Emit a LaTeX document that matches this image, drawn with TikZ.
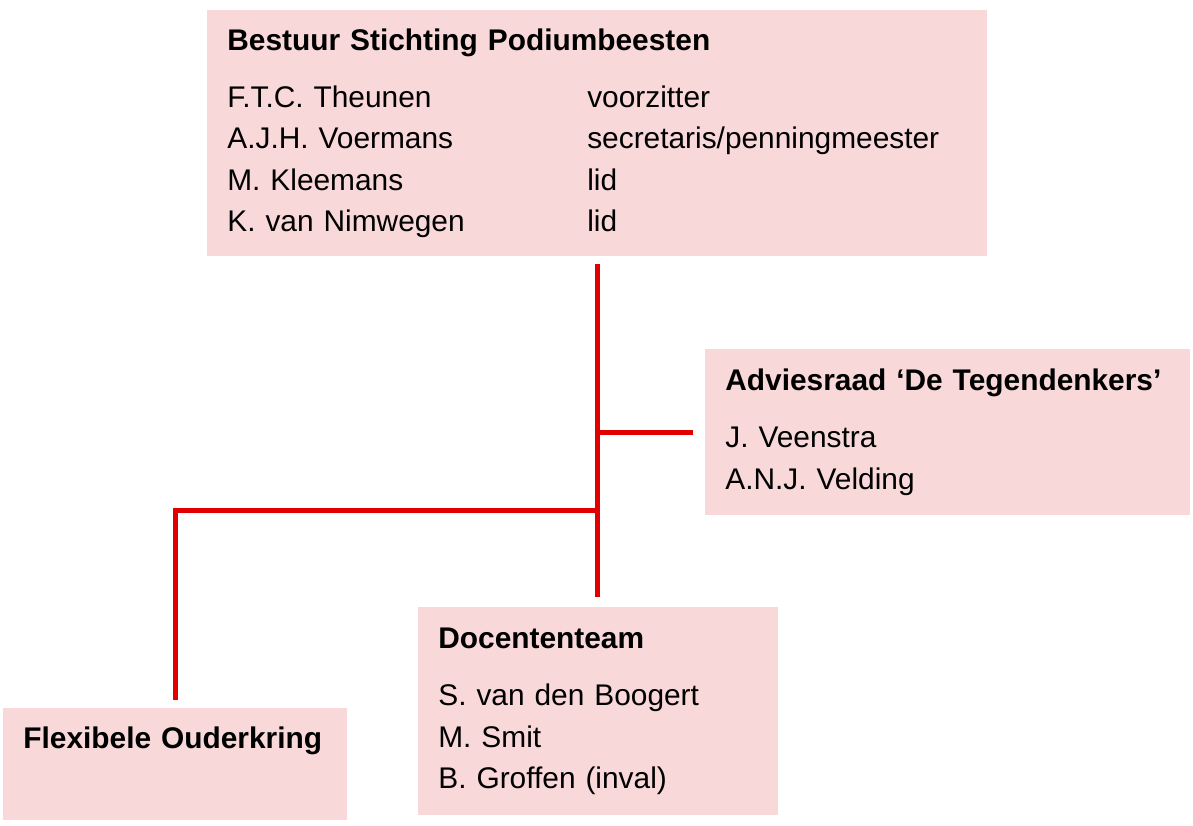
\documentclass[tikz,border=0pt]{standalone}
\usepackage{fontspec}
\setmainfont{Liberation Sans}
\definecolor{roze}{RGB}{248,216,216}
\definecolor{lijnrood}{RGB}{224,0,0}

\begin{document}
\begin{tikzpicture}[x=0.02cm, y=-0.02cm,
  blok/.style={fill=roze, anchor=north west, align=left, inner xsep=0.4cm, inner ysep=0pt, font=\fontsize{17}{23.5}\selectfont},
  tak/.style={draw=lijnrood, line width=0.1cm}]
\useasboundingbox (0,0) rectangle (1193,825);
\node[blok, text width=14.8cm, minimum height=4.92cm] (bestuur) at (207,10) {\textbf{Bestuur Stichting Podiumbeesten}\\[9pt]
\makebox[7.2cm][l]{F.T.C. Theunen}voorzitter\\
\makebox[7.2cm][l]{A.J.H. Voermans}secretaris/penningmeester\\
\makebox[7.2cm][l]{M. Kleemans}lid\\
\makebox[7.2cm][l]{K. van Nimwegen}lid};
\node[blok, text width=8.9cm, minimum height=3.32cm] (advies) at (705,349) {\textbf{Adviesraad ‘De Tegendenkers’}\\[9pt]
J. Veenstra\\
A.N.J. Velding};
\node[blok, text width=6.4cm, minimum height=4.16cm] (docenten) at (418,607) {\textbf{Docententeam}\\[9pt]
S. van den Boogert\\
M. Smit\\
B. Groffen (inval)};
\node[blok, text width=6.08cm, minimum height=2.24cm] (ouders) at (3,708) {\textbf{Flexibele Ouderkring}\\ \strut};
\coordinate (split) at (597,510);
\draw[tak, shorten <=0.14cm, shorten >=0.2cm] (bestuur.south) -- (bestuur.south |- docenten.north);
\draw[tak, shorten >=0.24cm] (bestuur.south |- advies.west) -- (advies.west);
\draw[tak, shorten >=0.16cm] (split) -| (ouders.north);
%\draw[tak] (split) -- (docenten.north);
\end{tikzpicture}
\end{document}
